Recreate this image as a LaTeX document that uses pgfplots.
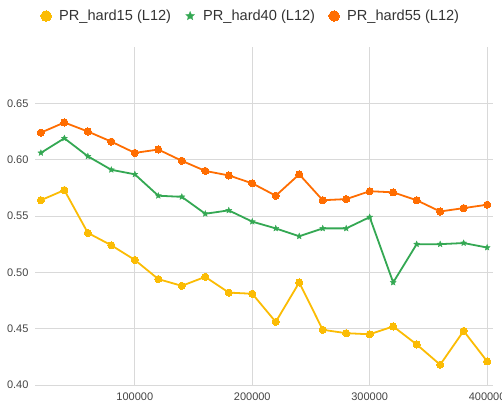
\documentclass[border=0pt]{standalone}
\usepackage{pgfplots}
\pgfplotsset{compat=1.18}
\usepackage{fontspec}
\setmainfont{Liberation Sans}
\definecolor{cA}{HTML}{FBBC04}
\definecolor{cB}{HTML}{34A853}
\definecolor{cC}{HTML}{FF6D01}
\definecolor{gridc}{HTML}{D9D9D9}
\definecolor{txt}{HTML}{444444}
\pgfdeclareplotmark{fstar}{%
  \pgfpathmoveto{\pgfpointpolar{90}{\pgfplotmarksize}}%
  \pgfpathlineto{\pgfpointpolar{126}{0.45\pgfplotmarksize}}%
  \pgfpathlineto{\pgfpointpolar{162}{\pgfplotmarksize}}%
  \pgfpathlineto{\pgfpointpolar{198}{0.45\pgfplotmarksize}}%
  \pgfpathlineto{\pgfpointpolar{234}{\pgfplotmarksize}}%
  \pgfpathlineto{\pgfpointpolar{270}{0.45\pgfplotmarksize}}%
  \pgfpathlineto{\pgfpointpolar{306}{\pgfplotmarksize}}%
  \pgfpathlineto{\pgfpointpolar{342}{0.45\pgfplotmarksize}}%
  \pgfpathlineto{\pgfpointpolar{18}{\pgfplotmarksize}}%
  \pgfpathlineto{\pgfpointpolar{54}{0.45\pgfplotmarksize}}%
  \pgfpathclose
  \pgfusepathqfillstroke}
\begin{document}
\begin{tikzpicture}[x=1pt,y=1pt]
\useasboundingbox (0,0) rectangle (502,406);
\begin{axis}[
  at={(35pt,21pt)}, anchor=south west,
  scale only axis, width=458pt, height=338pt,
  xmin=15000, xmax=405000, ymin=0.40, ymax=0.70,
  xtick={100000,200000,300000,400000},
  ytick={0.40,0.45,0.50,0.55,0.60,0.65},
  scaled x ticks=false, scaled y ticks=false,
  /pgf/number format/assume math mode=true,
  x tick label style={/pgf/number format/.cd, fixed, 1000 sep={}},
  y tick label style={/pgf/number format/.cd, fixed, fixed zerofill, precision=2},
  tick label style={font=\fontsize{11}{13}\selectfont, text=txt},
  xticklabel shift=4pt, yticklabel shift=3pt,
  axis line style={draw=none}, tick style={draw=none},
  grid=major, major grid style={gridc, line width=0.9pt},
  legend columns=3,
  legend style={draw=none, fill=none, inner sep=0pt, at={(0.4694,1.0917)}, anchor=center,
    font=\fontsize{14.6}{16}\selectfont, text=black!80,
    nodes={inner sep=0pt},
    /tikz/every odd column/.append style={column sep=7.7pt},
    /tikz/every even column/.append style={column sep=13.7pt}},
  legend image code/.code={\path[draw=none,fill=none] (-5.3pt,-5.3pt) rectangle (5.3pt,5.3pt);
    \draw plot coordinates {(0pt,0pt)};},
]
\addplot[cA, line width=1.8pt, mark=*, mark size=3.6pt, mark options={fill=cA, draw=cA, line width=0pt},
  legend image post style={mark size=5.3pt}] coordinates {
(20000,0.564) (40000,0.573) (60000,0.535) (80000,0.524) (100000,0.511)
(120000,0.494) (140000,0.488) (160000,0.496) (180000,0.482) (200000,0.481)
(220000,0.456) (240000,0.491) (260000,0.449) (280000,0.446) (300000,0.445)
(320000,0.452) (340000,0.436) (360000,0.418) (380000,0.448) (400000,0.421)};
\addlegendentry{PR\_hard15 (L12)}
\addplot[cB, line width=1.8pt, mark=fstar, mark size=3.2pt, mark options={fill=cB, draw=cB, line width=0.3pt},
  legend image post style={mark size=4.6pt}] coordinates {
(20000,0.606) (40000,0.619) (60000,0.603) (80000,0.591) (100000,0.587)
(120000,0.568) (140000,0.567) (160000,0.552) (180000,0.555) (200000,0.545)
(220000,0.539) (240000,0.532) (260000,0.539) (280000,0.539) (300000,0.549)
(320000,0.491) (340000,0.525) (360000,0.525) (380000,0.526) (400000,0.522)};
\addlegendentry{PR\_hard40 (L12)}
\addplot[cC, line width=1.8pt, mark=*, mark size=3.6pt, mark options={fill=cC, draw=cC, line width=0pt},
  legend image post style={mark size=5.3pt}] coordinates {
(20000,0.624) (40000,0.633) (60000,0.625) (80000,0.616) (100000,0.606)
(120000,0.609) (140000,0.599) (160000,0.590) (180000,0.586) (200000,0.579)
(220000,0.568) (240000,0.587) (260000,0.564) (280000,0.565) (300000,0.572)
(320000,0.571) (340000,0.564) (360000,0.554) (380000,0.557) (400000,0.560)};
\addlegendentry{PR\_hard55 (L12)}
\end{axis}
\end{tikzpicture}
\end{document}
